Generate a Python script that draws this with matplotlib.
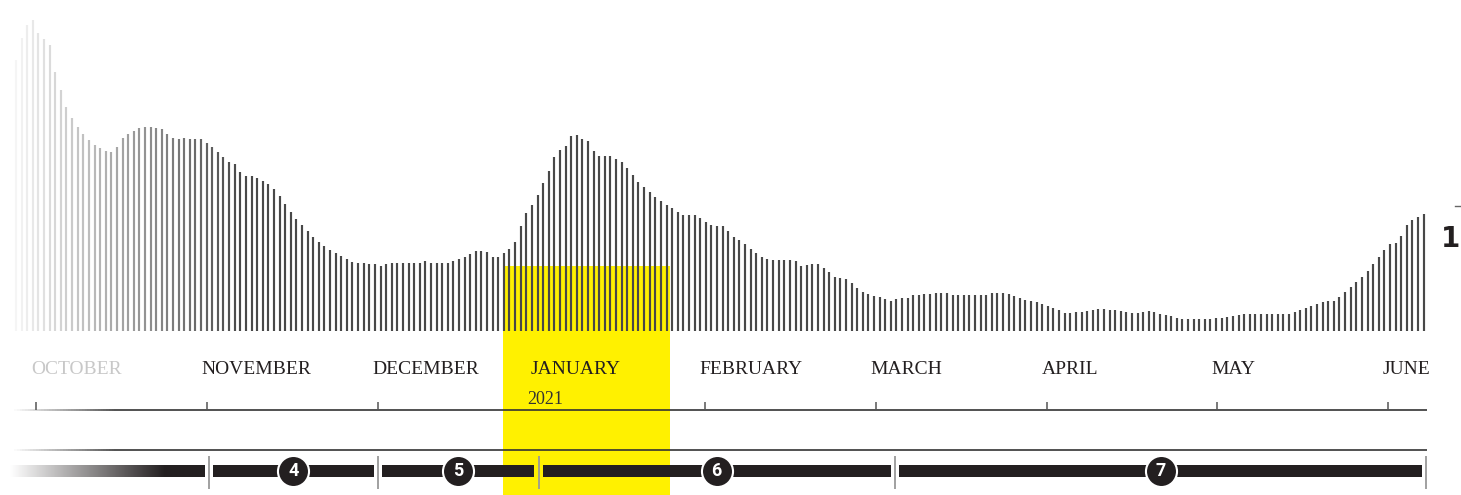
#! /usr/bin/env python3

import numpy as np
from matplotlib import pyplot as plt
from matplotlib.collections import LineCollection
from matplotlib.colors import LinearSegmentedColormap
import matplotlib.patches as mpatches

# daily values, late September 2020 -> early June 2021
values = [
    271, 293, 306, 311, 298, 292, 286, 259, 241, 224, 213, 204, 197, 191,
    186, 183, 180, 179, 184, 193, 197, 200, 203, 204, 204, 203, 202, 197,
    193, 192, 193, 192, 192, 192, 188, 184, 179, 174, 169, 167, 159, 155,
    155, 153, 150, 147, 142, 135, 127, 119, 112, 106, 100, 94, 89, 85,
    81, 78, 75, 72, 69, 68, 68, 67, 67, 65, 67, 68, 68, 68,
    68, 68, 68, 70, 68, 68, 68, 68, 70, 72, 74, 77, 80, 80,
    79, 74, 74, 78, 82, 89, 105, 118, 126, 136, 148, 160, 174, 181,
    185, 195, 196, 192, 190, 180, 175, 175, 175, 172, 169, 163, 156, 149,
    144, 139, 134, 130, 126, 123, 119, 116, 116, 116, 113, 109, 106, 105,
    105, 100, 94, 91, 87, 82, 78, 74, 72, 71, 71, 71, 71, 70,
    65, 66, 67, 67, 63, 59, 54, 53, 52, 48, 43, 39, 37, 35,
    34, 32, 30, 32, 33, 33, 36, 36, 37, 37, 38, 38, 38, 36,
    36, 36, 36, 36, 36, 36, 38, 38, 38, 37, 35, 33, 31, 30,
    29, 27, 25, 23, 21, 18, 18, 19, 19, 20, 21, 22, 22, 21,
    21, 20, 19, 18, 18, 19, 20, 19, 17, 16, 15, 13, 12, 12,
    12, 12, 12, 12, 13, 13, 14, 15, 16, 17, 17, 17, 17, 17,
    17, 17, 17, 17, 19, 21, 23, 25, 27, 29, 30, 30, 34, 39,
    44, 49, 54, 60, 67, 74, 81, 87, 88, 95, 106, 111, 114, 117,
]

months = ['OCTOBER', 'NOVEMBER', 'DECEMBER', 'JANUARY', 'FEBRUARY',
          'MARCH', 'APRIL', 'MAY', 'JUNE']
month_pos = [3.6, 34.0, 64.5, 92.7, 122.8, 153.3, 183.8, 214.1, 244.6]
year_label = '2021'
year_month = 'JANUARY'

phase_bounds = [34.4, 64.5, 93.2, 156.7, 251.5]
phase_labels = ['4', '5', '6', '7']

highlight = (86.8, 116.6)
highlight_top = 65

DARK = '#231f20'
YELLOW = '#fff100'

fig = plt.figure(figsize=(14.61, 4.95), dpi=100)
ax = fig.add_axes([0, 0, 1, 1])
ax.axis('off')

n = len(values)
x = np.arange(n)

# bars, fading in from the left
alpha = np.clip(0.05 + x / 42.0, 0.05, 1.0)
cols = np.zeros((n, 4))
cols[:, :3] = np.array([0x48, 0x48, 0x48]) / 255.
cols[:, 3] = alpha
ax.vlines(x, 0, values, colors=cols, linewidth=1.55, zorder=3)

# yellow highlight
ax.add_patch(mpatches.Rectangle((highlight[0], -200), highlight[1] - highlight[0],
                                highlight_top + 200, color=YELLOW, lw=0, zorder=1))


def fade_hline(y, x0, x1, xfade, color, lw):
    xs = np.linspace(x0, xfade, 40)
    segs = [[(xs[i], y), (xs[i + 1], y)] for i in range(len(xs) - 1)]
    a = np.linspace(0.0, 1.0, len(segs))
    c = np.zeros((len(segs), 4))
    c[:, :3] = np.array([0x33, 0x33, 0x33]) / 255.
    c[:, 3] = a
    ax.add_collection(LineCollection(segs, colors=c, linewidths=lw, zorder=4))
    ax.plot([xfade, x1], [y, y], color=color, lw=lw, zorder=4,
            solid_capstyle='butt')


axis_y = -79
fade_hline(axis_y, -0.8, 251.6, 18, '#333333', 1.2)
fade_hline(-119, -0.8, 251.6, 18, '#333333', 1.2)

# month ticks and labels
for name, p in zip(months, month_pos):
    if not (highlight[0] < p < highlight[1]):
        ax.vlines(p, axis_y, axis_y + 8, color='#555555', lw=1.1, zorder=4)
    color = '#c8c8c8' if name == 'OCTOBER' else DARK
    ax.text(p - 0.9, -38.5, name, ha='left', va='center', fontsize=14,
            family='Liberation Serif', color=color, zorder=5)
    if name == year_month:
        ax.text(p - 1.6, -68, year_label, ha='left', va='center',
                fontsize=13, family='Liberation Serif', color='#333333',
                zorder=5)

# phase timeline
bar_lo, bar_hi = -146, -134
gap = 0.75
start = -1.1
ramp_end = 26.6
grad = np.clip((np.linspace(start, phase_bounds[0] - gap, 300) - start)
               / (ramp_end - start), 0, 1)[None, :]
cmap = LinearSegmentedColormap.from_list('fade', ['#ffffff', DARK])
ax.imshow(grad, cmap=cmap, aspect='auto', vmin=0, vmax=1, zorder=4,
          extent=(start, phase_bounds[0] - gap, bar_lo, bar_hi),
          interpolation='bilinear')

for k, lab in enumerate(phase_labels):
    a, b = phase_bounds[k], phase_bounds[k + 1]
    ax.fill_between([a + gap, b - gap], bar_lo, bar_hi, color=DARK, lw=0,
                    zorder=4)
    mid = (a + b) / 2
    ax.scatter([mid], [(bar_lo + bar_hi) / 2], s=500, color=DARK,
               edgecolors='white', linewidths=1.5, zorder=6)
    ax.text(mid, (bar_lo + bar_hi) / 2 - 0.5, lab, ha='center', va='center',
            color='white', fontsize=13, fontweight='bold', family='Roboto',
            zorder=7)

ax.vlines(phase_bounds, -158, -125, color='#999999', lw=1.3, zorder=5)

# cut-off annotation at the right edge
ax.plot([256.6, 258.0], [125, 125], color='#666666', lw=1.0)
ax.text(257.5, 92, '1', ha='right', va='center', fontsize=20,
        fontweight='bold', family='DejaVu Sans', color=DARK)

ax.set_xlim(-2.853, 257.67)
ax.set_ylim(-164, 331)

fig.savefig('out.png', dpi=100)
